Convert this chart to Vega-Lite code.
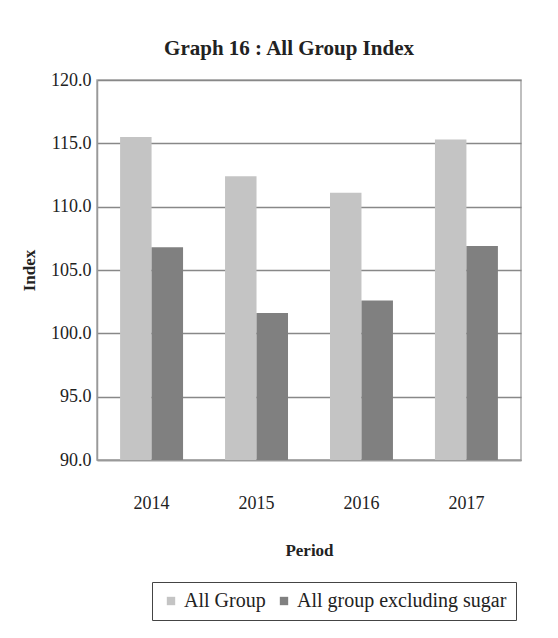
{
  "$schema": "https://vega.github.io/schema/vega-lite/v6.json",
  "width": 424,
  "height": 380,
  "autosize": "none",
  "padding": {"left": 97, "top": 80, "right": 37, "bottom": 178},
  "background": "white",
  "title": {
    "text": "Graph 16 : All Group Index",
    "font": "Liberation Serif",
    "fontSize": 21,
    "fontWeight": "bold",
    "color": "#222",
    "anchor": "middle",
    "dx": -20,
    "offset": 12
  },
  "config": {
    "view": {"stroke": "#aaa", "strokeWidth": 1.5},
    "font": "Liberation Serif"
  },
  "data": {
    "values": [
      {"Period": "2014", "Series": "All Group", "Index": 115.5},
      {"Period": "2014", "Series": "All group excluding sugar", "Index": 106.8},
      {"Period": "2015", "Series": "All Group", "Index": 112.4},
      {"Period": "2015", "Series": "All group excluding sugar", "Index": 101.6},
      {"Period": "2016", "Series": "All Group", "Index": 111.1},
      {"Period": "2016", "Series": "All group excluding sugar", "Index": 102.6},
      {"Period": "2017", "Series": "All Group", "Index": 115.3},
      {"Period": "2017", "Series": "All group excluding sugar", "Index": 106.9}
    ]
  },
  "mark": {"type": "bar", "clip": true},
  "encoding": {
    "x": {
      "field": "Period",
      "type": "nominal",
      "scale": {"paddingInner": 0.4, "paddingOuter": 0.22},
      "axis": {
        "title": "Period",
        "titleFont": "Liberation Serif",
        "titleFontSize": 17,
        "titleFontWeight": "bold",
        "titleColor": "#222",
        "titlePadding": 30,
        "labelAngle": 0,
        "labelFont": "Liberation Serif",
        "labelFontSize": 18,
        "labelColor": "#222",
        "labelPadding": 34,
        "ticks": false,
        "domainColor": "#999",
        "domainWidth": 1.5
      }
    },
    "xOffset": {"field": "Series", "type": "nominal"},
    "y": {
      "field": "Index",
      "type": "quantitative",
      "scale": {"domain": [90, 120], "zero": false, "nice": false},
      "axis": {
        "values": [90, 95, 100, 105, 110, 115, 120],
        "format": ".1f",
        "title": "Index",
        "titleFont": "Liberation Serif",
        "titleFontSize": 17,
        "titleFontWeight": "bold",
        "titleColor": "#222",
        "titlePadding": 12,
        "labelFont": "Liberation Serif",
        "labelFontSize": 18,
        "labelColor": "#222",
        "labelPadding": 6,
        "ticks": false,
        "domainColor": "#999",
        "domainWidth": 1.5,
        "grid": true,
        "gridColor": "#888",
        "gridWidth": 1.3
      }
    },
    "color": {
      "field": "Series",
      "type": "nominal",
      "scale": {
        "domain": ["All Group", "All group excluding sugar"],
        "range": ["#c4c4c4", "#808080"]
      },
      "legend": {
        "orient": "none",
        "legendX": 55,
        "legendY": 502,
        "direction": "horizontal",
        "title": null,
        "strokeColor": "#444",
        "padding": 9,
        "symbolType": "square",
        "symbolSize": 70,
        "symbolStrokeWidth": 0,
        "symbolOffset": 0,
        "labelOffset": 3,
        "labelFont": "Liberation Serif",
        "labelFontSize": 20,
        "labelColor": "#222",
        "columnPadding": 8,
        "labelLimit": 400
      }
    }
  }
}
